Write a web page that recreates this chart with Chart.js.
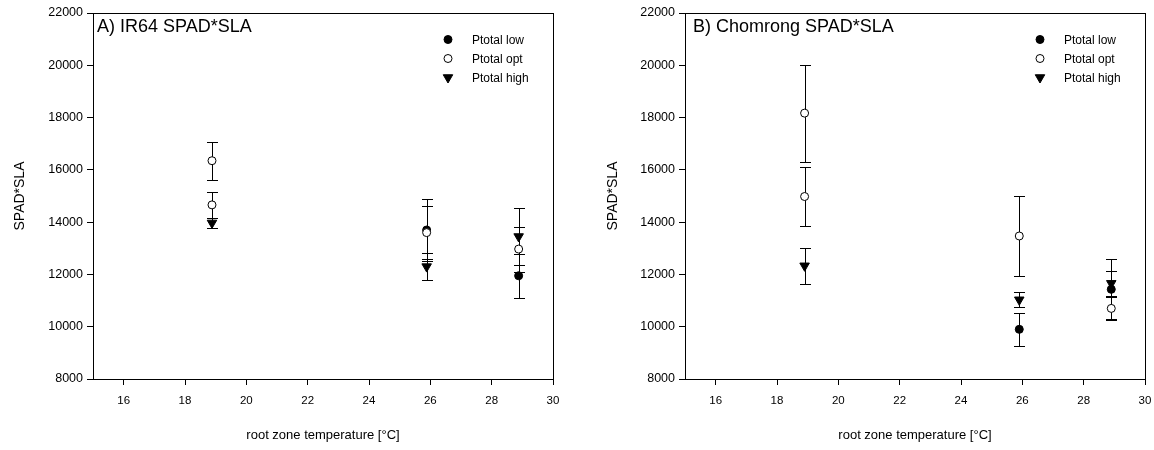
<!DOCTYPE html>
<html>
<head>
<meta charset="utf-8">
<script src="https://cdn.jsdelivr.net/npm/chart.js@4.4.1/dist/chart.umd.min.js"></script>
<style>
  html, body { margin: 0; padding: 0; background: #fff; }
  #wrap { position: relative; width: 1154px; height: 450px; overflow: hidden; }
  canvas { position: absolute; top: 0; }
</style>
</head>
<body>
<div id="wrap">
  <canvas id="chartA" width="577" height="450" style="left:0"></canvas>
  <canvas id="chartB" width="600" height="450" style="left:577px"></canvas>
</div>
<script>
// ---- data ----
const xTicks = [16, 18, 20, 22, 24, 26, 28, 30];
const seriesNames = ["Ptotal low", "Ptotal opt", "Ptotal high"];

// A) IR64
const irLowX = [25.88, 28.88];
const irLowY = [13700, 11950];
const irLowErr = [1200, 850];
const irOptX = [18.88, 18.88, 25.88, 28.88];
const irOptY = [16350, 14660, 13600, 12970];
const irOptErr = [720, 490, 1020, 860];
const irHighX = [18.88, 25.88, 28.88];
const irHighY = [13970, 12300, 13450];
const irHighErr = [200, 520, 1090];

// B) Chomrong
const chLowX = [25.9, 28.9];
const chLowY = [9900, 11430];
const chLowErr = [640, 1160];
const chOptX = [18.9, 18.9, 25.9, 28.9];
const chOptY = [18170, 14980, 13470, 10700];
const chOptErr = [1860, 1130, 1530, 420];
const chHighX = [18.9, 25.9, 28.9];
const chHighY = [12330, 11030, 11660];
const chHighErr = [690, 290, 490];

const FONT = "'Liberation Sans', Arial, sans-serif";
Chart.defaults.font.family = FONT;
Chart.defaults.color = "#000";

const styles = [
  { pointStyle: "circle", radius: 4, rotation: 0, bg: "#000", order: 2 },
  { pointStyle: "circle", radius: 4, rotation: 0, bg: "#fff", order: 1 },
  { pointStyle: "triangle", radius: 5.5, rotation: 180, bg: "#000", order: 0 },
];

function pts(xs, ys, errs) {
  return xs.map((x, i) => ({ x, y: ys[i], err: errs[i] }));
}

// vertical error bars with caps, drawn under the markers
const errorBars = {
  id: "errorBars",
  beforeDatasetsDraw(chart) {
    const { ctx, scales: { x, y } } = chart;
    ctx.save();
    ctx.strokeStyle = "#000";
    ctx.lineWidth = 1;
    chart.data.datasets.forEach((ds) => {
      ds.data.forEach((p) => {
        const px = Math.round(x.getPixelForValue(p.x)) + 0.5;
        const top = Math.round(y.getPixelForValue(p.y + p.err)) + 0.5;
        const bot = Math.round(y.getPixelForValue(p.y - p.err)) + 0.5;
        ctx.beginPath();
        ctx.moveTo(px, top); ctx.lineTo(px, bot);
        ctx.moveTo(px - 5.5, top); ctx.lineTo(px + 5.5, top);
        ctx.moveTo(px - 5.5, bot); ctx.lineTo(px + 5.5, bot);
        ctx.stroke();
      });
    });
    ctx.restore();
  },
};

// box frame, panel title and the legend in the upper right
const panel = {
  id: "panel",
  afterDraw(chart, args, opts) {
    const { ctx, chartArea: a } = chart;
    ctx.save();
    ctx.strokeStyle = "#000";
    ctx.lineWidth = 1;
    ctx.strokeRect(Math.round(a.left) + 0.5, Math.round(a.top) + 0.5,
      Math.round(a.right - a.left), Math.round(a.bottom - a.top));

    ctx.fillStyle = "#000";
    ctx.textBaseline = "alphabetic";
    ctx.font = "18px " + FONT;
    ctx.fillText(opts.title, a.left + opts.titleDx, 32);

    ctx.font = "12px " + FONT;
    ctx.textBaseline = "middle";
    chart.data.datasets.forEach((ds, i) => {
      const cy = 39.5 + i * 19;
      const sx = a.right - 105;
      ctx.fillStyle = ds.backgroundColor;
      ctx.strokeStyle = "#000";
      ctx.lineWidth = 1;
      Chart.helpers.drawPoint(ctx, {
        pointStyle: ds.pointStyle,
        radius: ds.pointRadius,
        rotation: ds.pointRotation,
        borderWidth: 1,
      }, sx, cy);
      ctx.fillStyle = "#000";
      ctx.fillText(ds.label, a.right - 81, cy + 1);
    });
    ctx.restore();
  },
};

function makeChart(id, title, titleDx, series, axisW, padRight, yTitlePad) {
  const datasets = series.map((s, i) => ({
    label: seriesNames[i],
    data: s,
    showLine: false,
    pointStyle: styles[i].pointStyle,
    pointRadius: styles[i].radius,
    pointRotation: styles[i].rotation,
    backgroundColor: styles[i].bg,
    borderColor: "#000",
    borderWidth: 1,
    order: styles[i].order,
  }));

  return new Chart(document.getElementById(id), {
    type: "scatter",
    data: { datasets },
    plugins: [errorBars, panel],
    options: {
      responsive: false,
      animation: false,
      devicePixelRatio: 1,
      layout: { padding: { top: 13, right: padRight, left: 0, bottom: 0 } },
      plugins: {
        legend: { display: false },
        tooltip: { enabled: false },
        panel: { title, titleDx },
      },
      scales: {
        x: {
          type: "linear",
          min: 15,
          max: 30,
          afterBuildTicks: (scale) => { scale.ticks = xTicks.map((v) => ({ value: v })); },
          afterFit: (scale) => { scale.height = 71; },
          ticks: { font: { size: 11.5 }, padding: 9, color: "#000" },
          grid: { drawOnChartArea: false, tickLength: 6, tickColor: "#000" },
          border: { color: "#000" },
          title: {
            display: true,
            text: "root zone temperature [°C]",
            font: { size: 13 },
            color: "#000",
            padding: { top: 0, bottom: 7 },
          },
        },
        y: {
          min: 8000,
          max: 22000,
          afterFit: (scale) => { scale.width = axisW; },
          ticks: {
            stepSize: 2000,
            font: { size: 12.5 },
            padding: 4,
            color: "#000",
            callback: (v) => String(v),
          },
          grid: { drawOnChartArea: false, tickLength: 6, tickColor: "#000" },
          border: { color: "#000" },
          title: {
            display: true,
            text: "SPAD*SLA",
            font: { size: 14 },
            color: "#000",
            padding: { top: yTitlePad, bottom: 0 },
          },
        },
      },
    },
  });
}

makeChart("chartA", "A) IR64 SPAD*SLA", 4,
  [pts(irLowX, irLowY, irLowErr), pts(irOptX, irOptY, irOptErr), pts(irHighX, irHighY, irHighErr)],
  93, 24, 12);

makeChart("chartB", "B) Chomrong SPAD*SLA", 8,
  [pts(chLowX, chLowY, chLowErr), pts(chOptX, chOptY, chOptErr), pts(chHighX, chHighY, chHighErr)],
  108, 32, 28);
</script>
</body>
</html>
